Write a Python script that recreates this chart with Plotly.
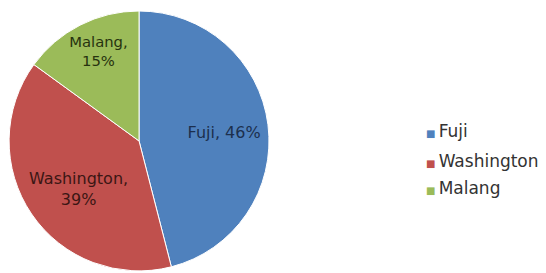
import plotly.graph_objects as go

labels = ["Fuji", "Washington", "Malang"]
values = [46, 39, 15]
colors = ["#4F81BD", "#C0504D", "#9BBB59"]
NB = "&nbsp;"
text_templates = [
    NB * 8 + "%{label}, %{percent:.0%}",
    NB + "<br>%{label}," + NB * 2 + "<br>%{percent:.0%}" + NB * 2,
    "%{label},<br>%{percent:.0%}<br>" + NB,
]
text_colors = ["#1c2f4d", "#3b1614", "#27330f"]
legend_y = [0.548, 0.441, 0.339]

fig = go.Figure()
fig.add_trace(go.Pie(
    labels=labels, values=values, sort=False, direction="clockwise", rotation=0,
    marker=dict(colors=colors, line=dict(color="white", width=1)),
    texttemplate=text_templates, textposition="inside", insidetextorientation="horizontal",
    insidetextfont=dict(color=text_colors, size=16, family="DejaVu Sans"),
    domain=dict(x=[0.002, 0.478], y=[0.037, 0.989]),
    showlegend=False, hoverinfo="skip",
))

for lab, col, yy in zip(labels, colors, legend_y):
    fig.add_annotation(
        x=0.762, y=yy, xref="paper", yref="paper", xanchor="left", yanchor="middle",
        showarrow=False,
        text=f"<span style='color:{col};font-size:10px'>■&nbsp;</span>{lab}",
        font=dict(family="DejaVu Sans", size=17, color="#333333"),
    )

fig.update_layout(
    width=546, height=273, margin=dict(l=0, r=0, t=0, b=0),
    paper_bgcolor="white", plot_bgcolor="white",
    showlegend=False,
    font=dict(family="DejaVu Sans"),
)
fig.write_html("out.html")
